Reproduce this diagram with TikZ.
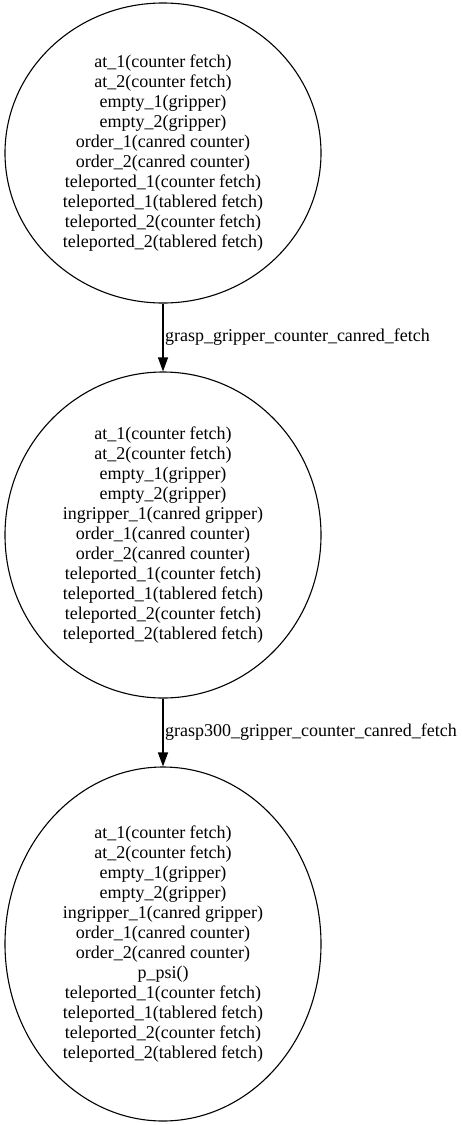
\documentclass[tikz,border=0pt]{standalone}
\usepackage{fontspec}
\setmainfont{Liberation Serif}
\usetikzlibrary{shapes.geometric,arrows.meta}

\begin{document}
\begin{tikzpicture}
    [every node/.style={inner sep=0pt},
     state/.style={ellipse, minimum width=316pt, line width=1.1pt, draw=black, align=center,
                   font=\fontsize{18}{20}\selectfont},
     trans/.style={line width=1.1pt, -{Triangle[length=14pt, width=10pt]}, color=black},
     translabel/.style={right, inner sep=1.5pt, font=\fontsize{18}{20}\selectfont}]
        \useasboundingbox (0pt, 0pt) rectangle (461pt, -1125pt);
        \node (1) [state, minimum height=300pt] at (163pt, -153pt) {at\_1(counter fetch)\\at\_2(counter fetch)\\empty\_1(gripper)\\empty\_2(gripper)\\order\_1(canred counter)\\order\_2(canred counter)\\teleported\_1(counter fetch)\\teleported\_1(tablered fetch)\\teleported\_2(counter fetch)\\teleported\_2(tablered fetch)};
        \node (2) [state, minimum height=326pt] at (163pt, -535pt) {at\_1(counter fetch)\\at\_2(counter fetch)\\empty\_1(gripper)\\empty\_2(gripper)\\ingripper\_1(canred gripper)\\order\_1(canred counter)\\order\_2(canred counter)\\teleported\_1(counter fetch)\\teleported\_1(tablered fetch)\\teleported\_2(counter fetch)\\teleported\_2(tablered fetch)};
        \node (3) [state, minimum height=354pt] at (163pt, -944pt) {at\_1(counter fetch)\\at\_2(counter fetch)\\empty\_1(gripper)\\empty\_2(gripper)\\ingripper\_1(canred gripper)\\order\_1(canred counter)\\order\_2(canred counter)\\p\_psi()\\teleported\_1(counter fetch)\\teleported\_1(tablered fetch)\\teleported\_2(counter fetch)\\teleported\_2(tablered fetch)};
        \draw [trans] (1) to node [translabel] {grasp\_gripper\_counter\_canred\_fetch} (2);
        \draw [trans] (2) to node [translabel] {grasp300\_gripper\_counter\_canred\_fetch} (3);
    \end{tikzpicture}
\end{document}
